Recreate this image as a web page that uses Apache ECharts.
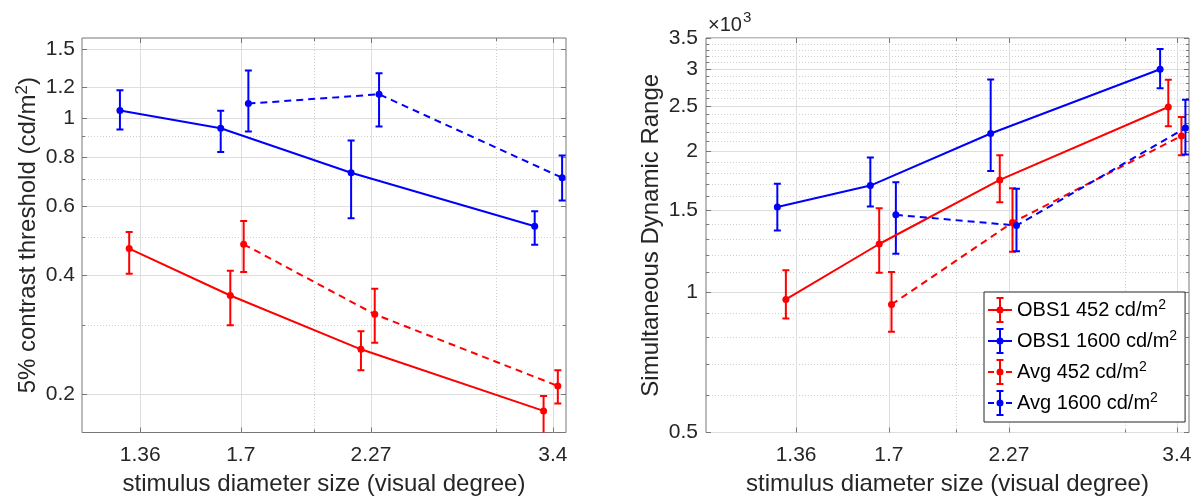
<!DOCTYPE html>
<html>
<head>
<meta charset="utf-8">
<script src="https://cdn.jsdelivr.net/npm/echarts@6/dist/echarts.min.js"></script>
<style>
html,body{margin:0;padding:0;background:#fff;}
#chart{width:1198px;height:503px;}
</style>
</head>
<body>
<div id="chart"></div>
<script>
// ---- data ----
const xObs452  = [1.327, 1.661, 2.22, 3.33];
const xObs1600 = [1.30, 1.626, 2.172, 3.265];
const xAvg452  = [1.711, 2.289, 3.437];
const xAvg1600 = [1.729, 2.311, 3.47];

// left panel: 5% contrast threshold (cd/m2)
const thrObs452    = [0.468, 0.356, 0.260, 0.1815];
const thrObs452Lo  = [0.404, 0.299, 0.230, 0.158];
const thrObs452Hi  = [0.516, 0.411, 0.289, 0.198];
const thrObs1600   = [1.048, 0.945, 0.729, 0.533];
const thrObs1600Lo = [0.938, 0.822, 0.559, 0.479];
const thrObs1600Hi = [1.179, 1.046, 0.880, 0.582];
const thrAvg452    = [0.480, 0.319, 0.210];
const thrAvg452Lo  = [0.408, 0.270, 0.1895];
const thrAvg452Hi  = [0.550, 0.370, 0.230];
const thrAvg1600   = [1.091, 1.152, 0.708];
const thrAvg1600Lo = [0.927, 0.954, 0.620];
const thrAvg1600Hi = [1.323, 1.302, 0.806];

// right panel: simultaneous dynamic range
const sdrObs452    = [964, 1267, 1738, 2490];
const sdrObs452Lo  = [877, 1099, 1557, 2265];
const sdrObs452Hi  = [1113, 1512, 1964, 2849];
const sdrObs1600   = [1520, 1690, 2185, 3000];
const sdrObs1600Lo = [1354, 1524, 1816, 2733];
const sdrObs1600Hi = [1706, 1942, 2853, 3317];
const sdrAvg452    = [940, 1409, 2159];
const sdrAvg452Lo  = [822, 1220, 1964];
const sdrAvg452Hi  = [1104, 1668, 2370];
const sdrAvg1600   = [1463, 1388, 2246];
const sdrAvg1600Lo = [1208, 1222, 1971];
const sdrAvg1600Hi = [1718, 1663, 2582];

// ticks
const xTicks = [1.36, 1.7, 2.27, 3.4];
const xMinor = [2, 3];
const thrTicks = [0.2, 0.4, 0.6, 0.8, 1, 1.2, 1.5];
const thrMinor = [0.3, 0.5, 0.7, 0.9];
const sdrTicks = [500, 1000, 1500, 2000, 2500, 3000, 3500];
const sdrMinor = [600, 700, 800, 900, 1100, 1200, 1300, 1400, 1600, 1700, 1800, 1900,
                  2100, 2200, 2300, 2400, 2600, 2700, 2800, 2900, 3100, 3200, 3300, 3400];

const names = ['OBS1 452 cd/m²', 'OBS1 1600 cd/m²', 'Avg 452 cd/m²', 'Avg 1600 cd/m²'];

// ---- styles ----
const FONT = "'Liberation Sans', Arial, Helvetica, sans-serif";
const RED = '#ff0000', BLUE = '#0000ff';
const FRAME = '#777777';
const TXT = '#262626';
const GRIDC = '#dedede';
const MINORC = '#cfcfcf';

const fmt = v => String(parseFloat(Number(v).toPrecision(6)));
const fmtK = v => String(parseFloat((Number(v) / 1000).toPrecision(6)));
const supify = s => s.replace('²', '{sup|2}');

function axesSet(dim, grid, min, max, ticks, minor, opts) {
  const base = {
    type: 'log', logBase: 10, gridIndex: grid, min: min, max: max,
    axisLine: {show: false, onZero: false},
    splitLine: {show: false}, axisLabel: {show: false}, axisTick: {show: false}
  };
  const posA = dim === 'x' ? 'bottom' : 'left';
  const posB = dim === 'x' ? 'top' : 'right';
  const tickMajor = {show: true, inside: true, length: 5, customValues: ticks, lineStyle: {color: FRAME, width: 1}};
  const tickMinor = {show: true, inside: true, length: 3, customValues: minor, lineStyle: {color: FRAME, width: 1}};
  const main = Object.assign({}, base, {
    position: posA,
    name: supify(opts.name), nameLocation: 'middle', nameGap: opts.nameGap,
    nameRotate: dim === 'x' ? 0 : 90,
    nameTextStyle: {fontFamily: FONT, fontSize: 24, color: TXT,
      rich: {sup: {fontFamily: FONT, fontSize: 17, color: TXT, verticalAlign: 'top', padding: [0, 0, 12, 0]}}},
    axisTick: tickMajor,
    axisLabel: {show: true, customValues: ticks, margin: opts.margin, fontFamily: FONT, fontSize: 21,
                color: TXT, formatter: opts.formatter},
    splitLine: {show: true, lineStyle: {color: GRIDC, width: 1}}
  });
  const opp = Object.assign({}, base, {position: posB, axisTick: tickMajor});
  const minA = Object.assign({}, base, {
    position: posA, axisTick: tickMinor,
    splitLine: {show: true, lineStyle: {color: MINORC, width: 1, type: [1, 2]}}
  });
  if (opts.extraName) {
    Object.assign(minA, {
      name: opts.extraName, nameLocation: 'end', nameGap: -3,
      nameTextStyle: {fontFamily: FONT, fontSize: 20, color: TXT, align: 'left', verticalAlign: 'bottom',
        padding: [0, 0, 0, 2],
        rich: {
          m: {fontFamily: FONT, fontSize: 20, color: TXT, verticalAlign: 'middle'},
          sup: {fontFamily: FONT, fontSize: 15, color: TXT, verticalAlign: 'top', padding: [0, 0, 16, 1]}
        }}
    });
  }
  const minB = Object.assign({}, base, {position: posB, axisTick: tickMinor});
  return [main, opp, minA, minB];
}

const xAxis = [].concat(
  axesSet('x', 0, 1.195, 3.5, xTicks, xMinor, {name: 'stimulus diameter size (visual degree)', nameGap: 40, margin: 12, formatter: fmt}),
  axesSet('x', 1, 1.095, 3.5, xTicks, xMinor, {name: 'stimulus diameter size (visual degree)', nameGap: 40, margin: 12, formatter: fmt})
);
const yAxis = [].concat(
  axesSet('y', 0, 0.16, 1.6, thrTicks, thrMinor, {name: '5% contrast threshold (cd/m²)', nameGap: 39.5, margin: 7, formatter: fmt}),
  axesSet('y', 1, 500, 3500, sdrTicks, sdrMinor, {name: 'Simultaneous Dynamic Range', nameGap: 43, margin: 8, formatter: fmtK, extraName: '{m|×10}{sup|3}'})
);

function zip2(a, b) { return a.map((v, i) => [v, b[i]]); }
function zip3(a, b, c) { return a.map((v, i) => [v, b[i], c[i]]); }

function errRender(params, api) {
  const x = api.value(0), lo = api.value(1), hi = api.value(2);
  const p1 = api.coord([x, lo]);
  const p2 = api.coord([x, hi]);
  const w = 3.5;
  const color = api.visual('color');
  const st = {stroke: color, lineWidth: 2, fill: null};
  return {
    type: 'group',
    children: [
      {type: 'line', shape: {x1: p1[0], y1: p1[1], x2: p2[0], y2: p2[1]}, style: st},
      {type: 'line', shape: {x1: p1[0] - w, y1: p1[1], x2: p1[0] + w, y2: p1[1]}, style: st},
      {type: 'line', shape: {x1: p2[0] - w, y1: p2[1], x2: p2[0] + w, y2: p2[1]}, style: st}
    ]
  };
}

function lineSeries(name, axis, xs, ys, color, dashed) {
  return {
    type: 'line', name: name, xAxisIndex: axis, yAxisIndex: axis,
    data: zip2(xs, ys), symbol: 'circle', symbolSize: 7,
    lineStyle: {color: color, width: 2, type: dashed ? [7, 5] : 'solid'},
    itemStyle: {color: color}, z: 4, emphasis: {disabled: true}
  };
}
function errSeries(name, axis, xs, lo, hi, color) {
  return {
    type: 'custom', name: name, xAxisIndex: axis, yAxisIndex: axis,
    data: zip3(xs, lo, hi), renderItem: errRender, clip: true,
    encode: {x: 0, y: [1, 2]}, itemStyle: {color: color}, z: 3
  };
}

const series = [
  errSeries(names[0], 0, xObs452, thrObs452Lo, thrObs452Hi, RED),
  errSeries(names[1], 0, xObs1600, thrObs1600Lo, thrObs1600Hi, BLUE),
  errSeries(names[2], 0, xAvg452, thrAvg452Lo, thrAvg452Hi, RED),
  errSeries(names[3], 0, xAvg1600, thrAvg1600Lo, thrAvg1600Hi, BLUE),
  lineSeries(names[0], 0, xObs452, thrObs452, RED, false),
  lineSeries(names[1], 0, xObs1600, thrObs1600, BLUE, false),
  lineSeries(names[2], 0, xAvg452, thrAvg452, RED, true),
  lineSeries(names[3], 0, xAvg1600, thrAvg1600, BLUE, true),

  errSeries(names[0], 4, xObs452, sdrObs452Lo, sdrObs452Hi, RED),
  errSeries(names[1], 4, xObs1600, sdrObs1600Lo, sdrObs1600Hi, BLUE),
  errSeries(names[2], 4, xAvg452, sdrAvg452Lo, sdrAvg452Hi, RED),
  errSeries(names[3], 4, xAvg1600, sdrAvg1600Lo, sdrAvg1600Hi, BLUE),
  lineSeries(names[0], 4, xObs452, sdrObs452, RED, false),
  lineSeries(names[1], 4, xObs1600, sdrObs1600, BLUE, false),
  lineSeries(names[2], 4, xAvg452, sdrAvg452, RED, true),
  lineSeries(names[3], 4, xAvg1600, sdrAvg1600, BLUE, true)
];

// legend icons: line + error bar + dot (24 x 26 box)
const dot = 'M15.5 13 A3.5 3.5 0 1 1 8.5 13 A3.5 3.5 0 1 1 15.5 13 Z ';
const bar = 'M11 0 H13 V26 H11 Z M8.5 0 H15.5 V2 H8.5 Z M8.5 24 H15.5 V26 H8.5 Z ';
const iconSolid = 'path://M0 12 H24 V14 H0 Z ' + bar + dot;
const iconDash = 'path://M0 12 H6 V14 H0 Z M18 12 H24 V14 H18 Z ' + bar + dot;

const option = {
  animation: false,
  backgroundColor: '#ffffff',
  grid: [
    {left: 82, top: 38, width: 484, height: 394.5, show: true, borderColor: FRAME, borderWidth: 1,
     backgroundColor: '#fff', containLabel: false, outerBoundsMode: 'none'},
    {left: 706, top: 38, width: 483, height: 394.5, show: true, borderColor: FRAME, borderWidth: 1,
     backgroundColor: '#fff', containLabel: false, outerBoundsMode: 'none'}
  ],
  xAxis: xAxis,
  yAxis: yAxis,
  legend: {
    orient: 'vertical', left: 984, top: 292,
    itemWidth: 24, itemHeight: 26, itemGap: 5,
    padding: [5, 8, 6, 4],
    backgroundColor: '#ffffff', borderColor: '#262626', borderWidth: 1, borderRadius: 0,
    symbolKeepAspect: false, selectedMode: false,
    itemStyle: {borderWidth: 0},
    formatter: name => supify(name),
    textStyle: {fontFamily: FONT, fontSize: 20, color: '#000',
      rich: {sup: {fontFamily: FONT, fontSize: 14, color: '#000', verticalAlign: 'top', padding: [0, 0, 10, 0]}}},
    data: [
      {name: names[0], icon: iconSolid},
      {name: names[1], icon: iconSolid},
      {name: names[2], icon: iconDash},
      {name: names[3], icon: iconDash}
    ],
    z: 10
  },
  series: series
};

const chart = echarts.init(document.getElementById('chart'), null, {renderer: 'canvas'});
chart.setOption(option);
</script>
</body>
</html>
